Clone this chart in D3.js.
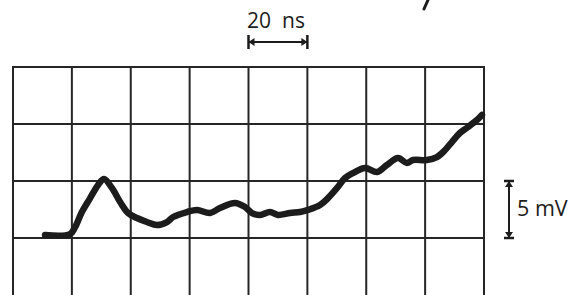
<!DOCTYPE html>
<html lang="en">
<head>
    <meta charset="UTF-8">
    <script src="https://d3js.org/d3.v7.min.js" charset="utf-8"></script>
    <title>Oscilloscope trace</title>
    <style>
        body { margin: 0; background: #fff; }
        text { font-family: "Open Sans", "Noto Sans", sans-serif; fill: #1c1c1c; }
    </style>
</head>
<body>
<div id="vis"></div>
<script>
    // time in ns (one division = 20 ns), signal in mV (one division = 5 mV)
    var timeTicks = [0, 20, 40, 60, 80, 100, 120, 140, 160],
        voltTicks = [-5, 0, 5, 10, 15],
        traceT = [10.9, 19.4, 21.1, 23.4, 26.2, 28.9, 30.9, 33.6, 36.4, 39.1, 42.1, 45.5,
                  48.9, 52.3, 54.4, 59.1, 62.5, 66.9, 70.3, 75.4, 78.8, 81.2, 83.9, 87.3,
                  90.0, 94.1, 97.5, 100.2, 104.3, 107.0, 110.1, 112.8, 115.5, 119.6, 123.7,
                  127.0, 130.8, 133.8, 135.9, 140.6, 144.0, 146.8, 149.1, 151.8, 154.6, 157.6, 159.3],
        traceV = [0.26, 0.35, 0.96, 2.28, 3.5, 4.65, 5.17, 4.39, 3.16, 2.19, 1.75, 1.40,
                  1.14, 1.40, 1.84, 2.28, 2.46, 2.19, 2.63, 3.07, 2.72, 2.19, 2.02, 2.28,
                  2.02, 2.19, 2.28, 2.46, 2.89, 3.5, 4.39, 5.26, 5.7, 6.14, 5.79,
                  6.4, 7.02, 6.58, 6.84, 6.84, 7.1, 7.72, 8.42, 9.21, 9.74, 10.35, 10.79],
        timeScaleLabel = ["20", "ns"],
        voltScaleLabel = "5 mV";

    var width = 574, height = 295,
        ink = "#1c1c1c",
        svg = d3.select("#vis").append("svg").attr("width", width).attr("height", height);

    var x = d3.scaleLinear().domain([0, 160]).range([13, 484]),
        y = d3.scaleLinear().domain([-5, 15]).range([295, 67]);

    // grid
    var grid = svg.append("g").attr("stroke", "#262626").attr("stroke-width", 2);
    grid.selectAll("line.v").data(timeTicks).enter().append("line")
        .attr("x1", function(d){ return x(d); }).attr("x2", function(d){ return x(d); })
        .attr("y1", y(15) - 1).attr("y2", y(-5));
    grid.selectAll("line.h").data(voltTicks.slice(1)).enter().append("line")
        .attr("x1", x(0) - 1).attr("x2", x(160) + 1)
        .attr("y1", function(d){ return y(d); }).attr("y2", function(d){ return y(d); });

    // trace
    var pts = traceT.map(function(t, i){ return [t, traceV[i]]; });
    var line = d3.line()
        .x(function(d){ return x(d[0]); })
        .y(function(d){ return y(d[1]); })
        .curve(d3.curveCatmullRom);
    svg.append("path").datum(pts)
        .attr("d", line)
        .attr("fill", "none")
        .attr("stroke", ink)
        .attr("stroke-width", 6.5)
        .attr("stroke-linejoin", "round")
        .attr("stroke-linecap", "round");

    // horizontal scale bar (one time division)
    var hb = svg.append("g").attr("stroke", ink).attr("fill", ink),
        hx0 = x(80), hx1 = x(100), hy = 42;
    hb.append("line").attr("x1", hx0).attr("x2", hx1).attr("y1", hy).attr("y2", hy).attr("stroke-width", 2);
    [hx0, hx1].forEach(function(px, i){
        var dir = i === 0 ? 1 : -1;
        hb.append("line").attr("x1", px).attr("x2", px).attr("y1", hy - 7).attr("y2", hy + 7).attr("stroke-width", 2.5);
        hb.append("path").attr("stroke", "none")
            .attr("d", "M" + px + "," + hy + "L" + (px + dir * 6) + "," + (hy - 4) + "L" + (px + dir * 6) + "," + (hy + 4) + "Z");
    });
    svg.append("text").attr("x", 247).attr("y", 28).attr("font-size", 21).text(timeScaleLabel[0]);
    svg.append("text").attr("x", 282).attr("y", 28).attr("font-size", 21).text(timeScaleLabel[1]);

    // vertical scale bar (one voltage division)
    var vb = svg.append("g").attr("stroke", ink).attr("fill", ink),
        vx = 509, vy0 = y(5), vy1 = y(0);
    vb.append("line").attr("x1", vx).attr("x2", vx).attr("y1", vy0).attr("y2", vy1).attr("stroke-width", 2);
    [vy0, vy1].forEach(function(py, i){
        var dir = i === 0 ? 1 : -1;
        vb.append("line").attr("x1", vx - 5).attr("x2", vx + 5).attr("y1", py).attr("y2", py).attr("stroke-width", 2.5);
        vb.append("path").attr("stroke", "none")
            .attr("d", "M" + vx + "," + py + "L" + (vx - 4) + "," + (py + dir * 6) + "L" + (vx + 4) + "," + (py + dir * 6) + "Z");
    });
    svg.append("text").attr("x", 517).attr("y", 216).attr("font-size", 21.5).text(voltScaleLabel);

    // bit of a glyph cut off at the top edge
    svg.append("line").attr("x1", 428).attr("y1", 0).attr("x2", 424).attr("y2", 9)
        .attr("stroke", ink).attr("stroke-width", 3).attr("stroke-linecap", "round");
</script>
</body>
</html>
